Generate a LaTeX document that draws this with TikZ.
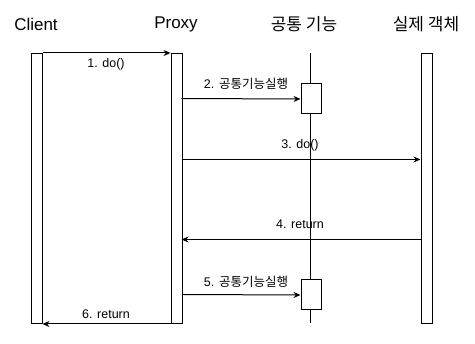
\documentclass[tikz,border=0pt]{standalone}
\usepackage{fontspec}
\setmainfont{Liberation Sans}
\newfontfamily\kr{Noto Sans CJK KR}
\usetikzlibrary{arrows.meta}
\begin{document}
\begin{tikzpicture}[x=1pt,y=-1pt,
  bar/.style={draw,line width=1pt,minimum width=11pt,inner sep=0pt,anchor=north west},
  act/.style={draw,fill=white,line width=1pt,minimum width=20pt,minimum height=30pt,inner sep=0pt,anchor=north west},
  head/.style={font=\fontsize{17}{19}\selectfont,inner sep=0pt},
  lbl/.style={font=\fontsize{12.5}{14}\selectfont,inner sep=0pt},
  msg/.style={line width=1pt,-{Stealth[length=7pt,width=6pt]}},
  life/.style={line width=1pt}]
\useasboundingbox (0,0) rectangle (475,344);
% headers
\node[head] (hc) at (36,24) {Client};
\node[head] (hp) at (176,24) {Proxy};
\node[head] (hk) at (304,24) {\kr 공통 기능};
\node[head] (hr) at (426,24) {\kr 실제 객체};
% bars
\node[bar,minimum height=270pt] (cb) at (30.5,53) {};
\node[bar,minimum height=270pt] (pb) at (170.5,53) {};
\node[bar,minimum height=270pt] (rb) at (420.5,53) {};
% common lifeline
\coordinate (kt) at (310.5,53);
\coordinate (kb) at (310.5,323);
\draw[life] (kt) -- (kb);
\node[act] (a1) at (300.5,83.5) {};
\node[act] (a2) at (300.5,279.5) {};
% endpoints
\coordinate (p2) at (181.5,98.5);
\coordinate (p3) at (181.5,159.5);
\coordinate (r3) at (420.5,159.5);
\coordinate (r4) at (420.5,239.5);
\coordinate (p4) at (181.5,239.5);
\coordinate (p5) at (183,294.5);
% messages
\draw[msg] (cb.north east) -- (pb.north west);
\node[lbl] (l1) at (106,64) {1. do()};
\draw[msg] (p2) -- (a1.west);
\node[lbl] (l2) at (246,84) {2. {\kr 공통기능실행}};
\draw[msg] (p3) -- (r3);
\node[lbl] (l3) at (300,145) {3. do()};
\draw[msg] (r4) -- (p4);
\node[lbl] (l4) at (300,224) {4. return};
\draw[msg] (p5) -- (a2.west);
\node[lbl] (l5) at (246,282) {5. {\kr 공통기능실행}};
\draw[msg] (pb.south west) -- (cb.south east);
\node[lbl] (l6) at (106,314) {6. return};
\end{tikzpicture}
\end{document}
